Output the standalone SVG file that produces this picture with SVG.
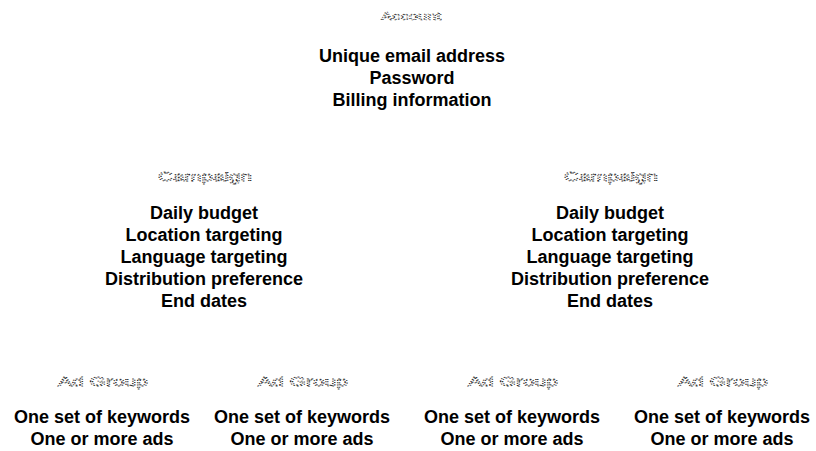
<svg xmlns="http://www.w3.org/2000/svg" width="816" height="451" viewBox="0 0 816 451">
<style>
.hd{font-family:"Liberation Sans",Arial,sans-serif;font-size:13px;fill:#fff;stroke:#222;stroke-width:0.8;stroke-dasharray:1 1.3;text-anchor:middle}
.sm{font-size:11px;stroke-width:0.7}
.tx{font-family:"Liberation Sans",Arial,sans-serif;font-size:18px;font-weight:bold;fill:#000;text-anchor:middle}
</style>
<rect width="816" height="451" fill="#fff"/>
<g id="account">
<text class="hd sm" x="411" y="20" textLength="60" lengthAdjust="spacingAndGlyphs">Account</text>
<text class="tx" x="412" y="62">Unique email address</text>
<text class="tx" x="412" y="84">Password</text>
<text class="tx" x="412" y="106">Billing information</text>
</g>
<g id="campaign1">
<text class="hd" x="205" y="181" textLength="94" lengthAdjust="spacingAndGlyphs">Campaign</text>
<text class="tx" x="204" y="219">Daily budget</text>
<text class="tx" x="204" y="241">Location targeting</text>
<text class="tx" x="204" y="263">Language targeting</text>
<text class="tx" x="204" y="285">Distribution preference</text>
<text class="tx" x="204" y="307">End dates</text>
</g>
<g id="campaign2">
<text class="hd" x="611" y="181" textLength="94" lengthAdjust="spacingAndGlyphs">Campaign</text>
<text class="tx" x="610" y="219">Daily budget</text>
<text class="tx" x="610" y="241">Location targeting</text>
<text class="tx" x="610" y="263">Language targeting</text>
<text class="tx" x="610" y="285">Distribution preference</text>
<text class="tx" x="610" y="307">End dates</text>
</g>
<g id="adgroup1">
<text class="hd" x="103" y="386" textLength="90" lengthAdjust="spacingAndGlyphs">Ad Group</text>
<text class="tx" x="102" y="423">One set of keywords</text>
<text class="tx" x="102" y="445">One or more ads</text>
</g>
<g id="adgroup2">
<text class="hd" x="303" y="386" textLength="90" lengthAdjust="spacingAndGlyphs">Ad Group</text>
<text class="tx" x="302" y="423">One set of keywords</text>
<text class="tx" x="302" y="445">One or more ads</text>
</g>
<g id="adgroup3">
<text class="hd" x="513" y="386" textLength="90" lengthAdjust="spacingAndGlyphs">Ad Group</text>
<text class="tx" x="512" y="423">One set of keywords</text>
<text class="tx" x="512" y="445">One or more ads</text>
</g>
<g id="adgroup4">
<text class="hd" x="723" y="386" textLength="90" lengthAdjust="spacingAndGlyphs">Ad Group</text>
<text class="tx" x="722" y="423">One set of keywords</text>
<text class="tx" x="722" y="445">One or more ads</text>
</g>
<g id="connectors"></g>
</svg>
